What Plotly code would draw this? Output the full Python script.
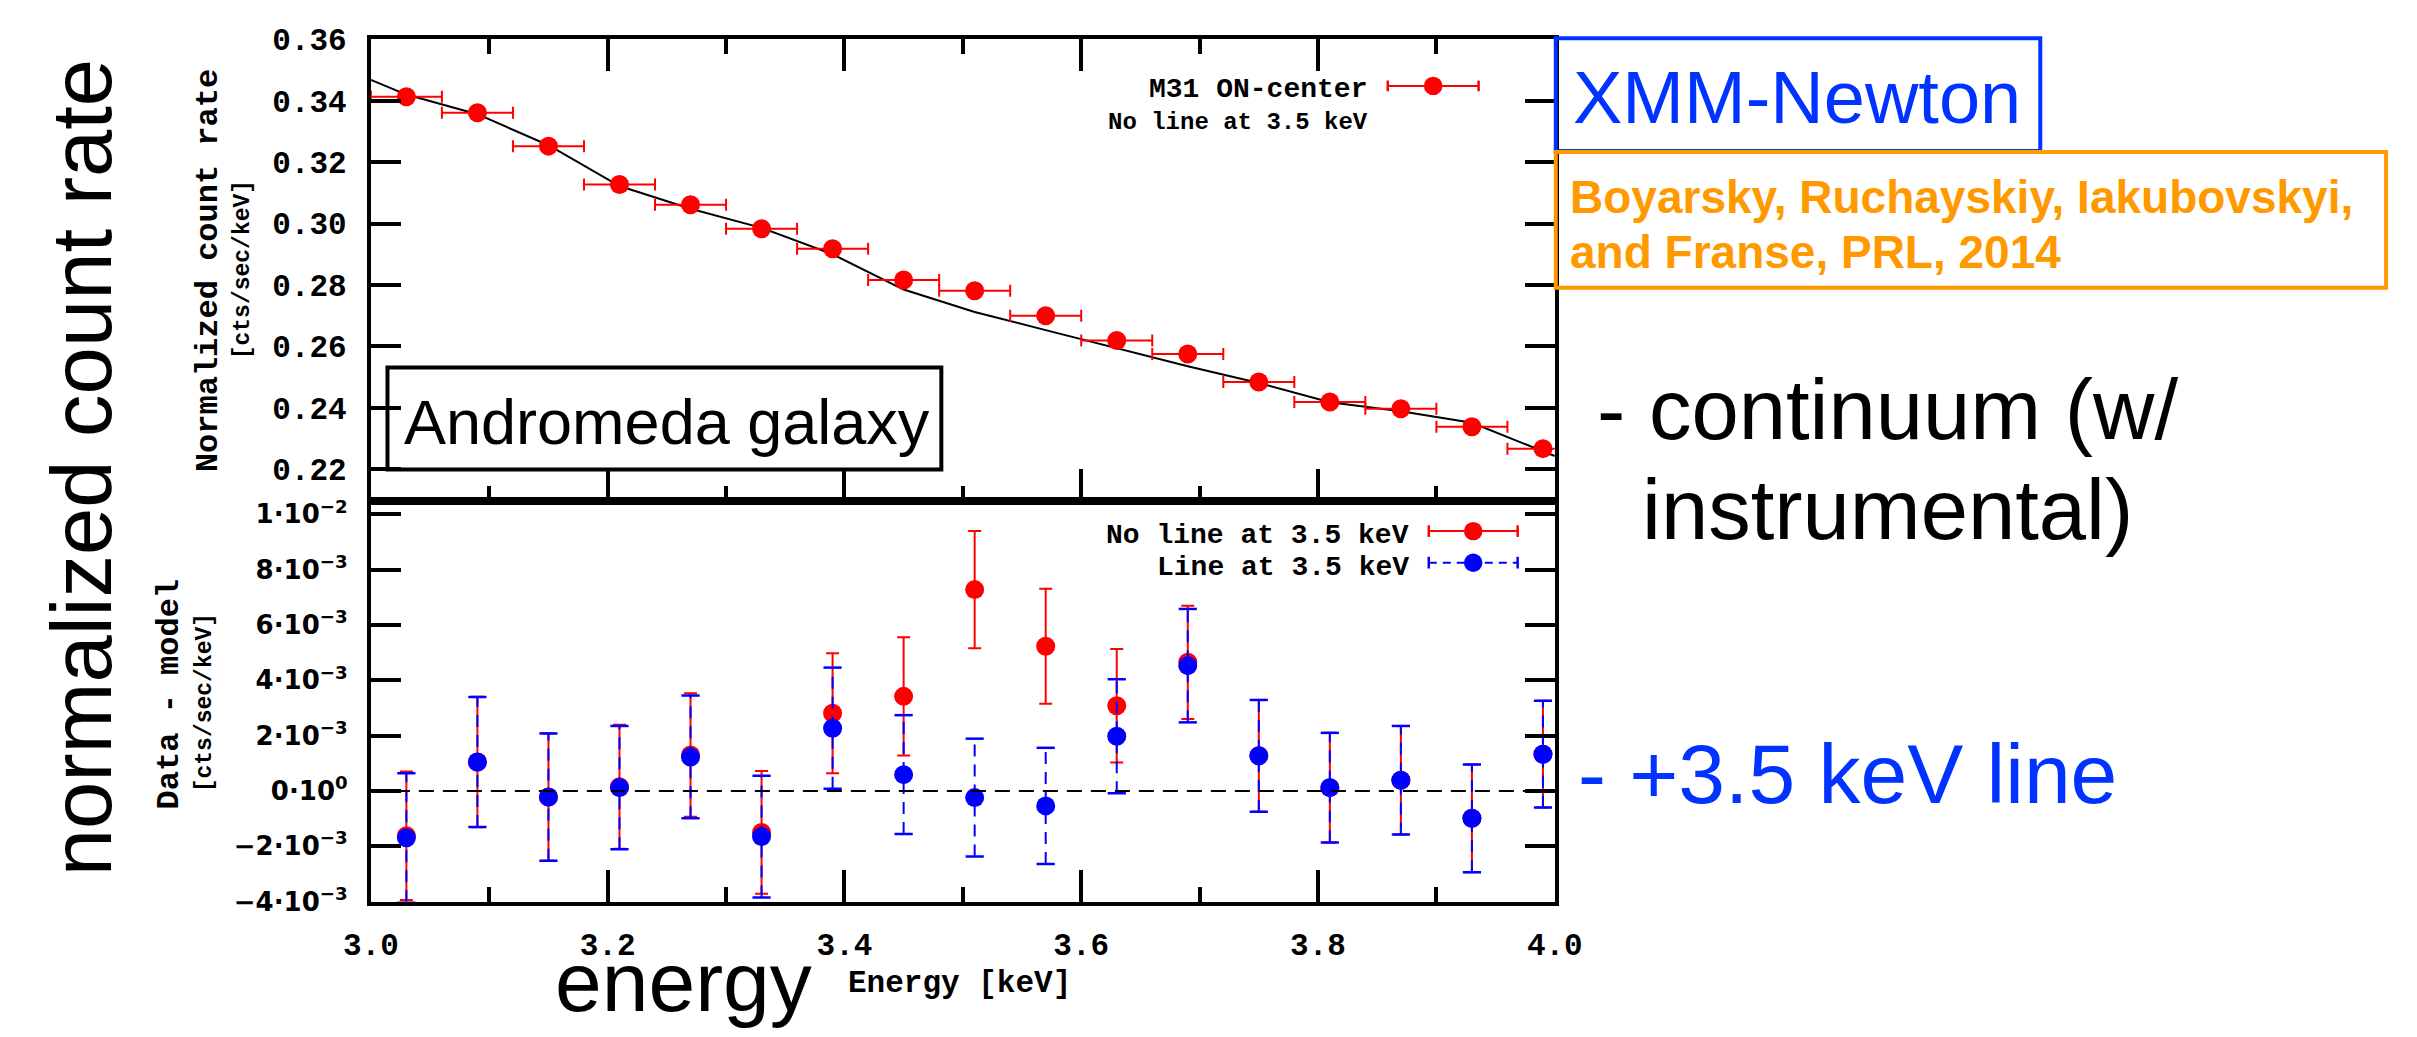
import plotly.graph_objects as go

W, H = 2417, 1037

# ---------------- data ----------------
energy = [3.03, 3.09, 3.15, 3.21, 3.27, 3.33, 3.39, 3.45, 3.51, 3.57,
          3.63, 3.69, 3.75, 3.81, 3.87, 3.93, 3.99]
bin_halfwidth = [0.03, 0.03, 0.03, 0.03, 0.03, 0.03, 0.03, 0.03, 0.03,
                 0.03, 0.03, 0.03, 0.03, 0.03, 0.03, 0.03, 0.03]
rate = [0.3413, 0.3361, 0.3252, 0.3127, 0.3061, 0.2983, 0.2918, 0.2816,
        0.2781, 0.2700, 0.2619, 0.2575, 0.2484, 0.2419, 0.2397, 0.2338, 0.2267]

model_x = [3.00, 3.03, 3.09, 3.15, 3.21, 3.27, 3.33, 3.39, 3.45, 3.51,
           3.57, 3.63, 3.69, 3.75, 3.81, 3.87, 3.93, 4.00]
model_y = [0.3468, 0.3420, 0.3356, 0.3255, 0.3122, 0.3048, 0.2986, 0.2900,
           0.2785, 0.2712, 0.2653, 0.2595, 0.2535, 0.2481, 0.2418, 0.2389,
           0.2351, 0.2243]

res_noline = [-1.62e-3, 1.05e-3, -0.22e-3, 0.15e-3, 1.30e-3, -1.50e-3,
              2.81e-3, 3.42e-3, 7.28e-3, 5.23e-3, 3.08e-3, 4.65e-3,
              1.27e-3, 0.12e-3, 0.39e-3, -0.99e-3, 1.33e-3]
err_noline = [2.32e-3, 2.36e-3, 2.30e-3, 2.24e-3, 2.23e-3, 2.22e-3,
              2.17e-3, 2.14e-3, 2.12e-3, 2.08e-3, 2.05e-3, 2.05e-3,
              2.02e-3, 1.98e-3, 1.96e-3, 1.95e-3, 1.93e-3]
res_line = [-1.69e-3, 1.05e-3, -0.22e-3, 0.12e-3, 1.23e-3, -1.65e-3,
            2.27e-3, 0.59e-3, -0.24e-3, -0.54e-3, 1.98e-3, 4.53e-3,
            1.27e-3, 0.12e-3, 0.39e-3, -0.99e-3, 1.33e-3]
err_line = [2.33e-3, 2.35e-3, 2.30e-3, 2.23e-3, 2.22e-3, 2.20e-3,
            2.19e-3, 2.15e-3, 2.13e-3, 2.10e-3, 2.06e-3, 2.05e-3,
            2.02e-3, 1.98e-3, 1.96e-3, 1.95e-3, 1.93e-3]

res_tickvals = [-4e-3, -2e-3, 0, 2e-3, 4e-3, 6e-3, 8e-3, 1e-2]
res_ticktext = ["−4·10<sup>−3</sup>", "−2·10<sup>−3</sup>", "0·10<sup>0</sup>",
                "2·10<sup>−3</sup>", "4·10<sup>−3</sup>", "6·10<sup>−3</sup>",
                "8·10<sup>−3</sup>", "1·10<sup>−2</sup>"]

# ---------------- helpers ----------------
def px(x):
    return x / W

def py(y):
    return 1 - y / H

RED = "#ff0000"
BLUE = "#0000ff"
MONO = "Liberation Mono"
SANS = "Liberation Sans"

fig = go.Figure()

# ---- top panel ----
fig.add_trace(go.Scatter(x=model_x, y=model_y, mode="lines",
                         line=dict(color="black", width=2),
                         xaxis="x", yaxis="y", showlegend=False))
fig.add_trace(go.Scatter(x=energy, y=rate, mode="markers",
                         marker=dict(color=RED, size=19),
                         error_x=dict(type="data", array=bin_halfwidth,
                                      color=RED, thickness=2, width=6),
                         xaxis="x", yaxis="y", showlegend=False))

# ---- bottom panel ----
fig.add_trace(go.Scatter(x=energy, y=res_noline, mode="markers",
                         marker=dict(color=RED, size=19),
                         error_y=dict(type="data", array=err_noline,
                                      color=RED, thickness=2, width=6.5),
                         xaxis="x2", yaxis="y2", showlegend=False))

bx, by = [], []
for e, r, s in zip(energy, res_line, err_line):
    bx += [e, e, None]
    by += [r - s, r + s, None]
fig.add_trace(go.Scatter(x=bx, y=by, mode="lines",
                         line=dict(color=BLUE, width=2, dash="12px,8px"),
                         xaxis="x2", yaxis="y2", showlegend=False))
cap_x = energy + energy
cap_y = [r - s for r, s in zip(res_line, err_line)] + \
        [r + s for r, s in zip(res_line, err_line)]
fig.add_trace(go.Scatter(x=cap_x, y=cap_y, mode="markers",
                         marker=dict(symbol="line-ew", size=13,
                                     line=dict(color=BLUE, width=2.5)),
                         xaxis="x2", yaxis="y2", showlegend=False))
fig.add_trace(go.Scatter(x=energy, y=res_line, mode="markers",
                         marker=dict(color=BLUE, size=19),
                         xaxis="x2", yaxis="y2", showlegend=False))

# ---------------- axes ----------------
xdom = [px(351), px(1563)]
axis_common = dict(showgrid=False, zeroline=False, showline=True,
                   linecolor="black", linewidth=4, ticks="inside",
                   tickcolor="black", tickwidth=3.5)
tickfont_y = dict(family=MONO, size=31, color="black", weight="bold")
tickfont_x = dict(family=MONO, size=31, color="black", weight="bold")
tickfont_res = dict(family="DejaVu Sans", size=26, color="black",
                    weight="bold")

fig.update_layout(
    width=W, height=H,
    margin=dict(l=0, r=0, t=0, b=0),
    paper_bgcolor="white", plot_bgcolor="white",
    showlegend=False,
    xaxis=dict(domain=xdom, anchor="y", range=[3.0, 4.0], tick0=3.0,
               dtick=0.2, ticklen=32, showticklabels=False, mirror="ticks",
               minor=dict(dtick=0.1, ticklen=15, ticks="inside",
                          tickcolor="black", tickwidth=3.5),
               **axis_common),
    yaxis=dict(domain=[py(500), py(25)], anchor="x", range=[0.2098, 0.36],
               tick0=0.2, dtick=0.02, tickformat=".2f", ticklen=30,
               mirror="ticks", tickfont=tickfont_y, ticklabelstandoff=14,
               **axis_common),
    xaxis2=dict(domain=xdom, anchor="y2", range=[3.0, 4.0], tick0=3.0,
                dtick=0.2, tickformat=".1f", ticklen=32, mirror=True,
                tickfont=tickfont_x, ticklabelstandoff=12,
                minor=dict(dtick=0.1, ticklen=15, ticks="inside",
                           tickcolor="black", tickwidth=3.5),
                **axis_common),
    yaxis2=dict(domain=[py(913), py(500)], anchor="x2",
                range=[-0.004, 0.0105], tickvals=res_tickvals,
                ticktext=res_ticktext, ticklen=30, mirror="ticks",
                tickfont=tickfont_res, ticklabelstandoff=14, **axis_common),
)

# ---------------- shapes ----------------
shapes = []
# zero line in residual panel
shapes.append(dict(type="line", xref="x2 domain", yref="y2", x0=0, x1=1,
                   y0=0, y1=0, line=dict(color="black", width=2,
                                         dash="15px,9px")))
# Andromeda box
shapes.append(dict(type="rect", xref="paper", yref="paper",
                   x0=px(368), x1=px(935), y0=py(468), y1=py(363),
                   line=dict(color="black", width=4)))
# XMM-Newton box
shapes.append(dict(type="rect", xref="paper", yref="paper",
                   x0=px(1564), x1=px(2060), y0=py(140), y1=py(24),
                   line=dict(color="#0033ff", width=4)))
# reference box
shapes.append(dict(type="rect", xref="paper", yref="paper",
                   x0=px(1564), x1=px(2414), y0=py(281), y1=py(141),
                   line=dict(color="#ff9900", width=4)))


def legend_sample(xl, xr, yc, color, dash=None, caph=11, r=9.5):
    out = []
    out.append(dict(type="line", xref="paper", yref="paper",
                    x0=px(xl), x1=px(xr), y0=py(yc), y1=py(yc),
                    line=dict(color=color, width=2, dash=dash or "solid")))
    for xe in (xl, xr):
        out.append(dict(type="line", xref="paper", yref="paper",
                        x0=px(xe), x1=px(xe), y0=py(yc - caph / 2),
                        y1=py(yc + caph / 2), line=dict(color=color, width=2.5)))
    xc = (xl + xr) / 2
    out.append(dict(type="circle", xref="paper", yref="paper",
                    x0=px(xc - r), x1=px(xc + r), y0=py(yc + r), y1=py(yc - r),
                    fillcolor=color, line=dict(color=color, width=0)))
    return out


shapes += legend_sample(1392, 1485, 73, RED)
shapes += legend_sample(1434, 1525, 531.5, RED, caph=12)
shapes += legend_sample(1434, 1525, 564, BLUE, dash="8px,6px", caph=12)
fig.update_layout(shapes=shapes)

# ---------------- annotations ----------------
ann = []


def add_text(text, x, y, size, family=SANS, color="black", xanchor="center",
             angle=0, weight="normal"):
    ann.append(dict(text=text, xref="paper", yref="paper", x=px(x), y=py(y),
                    xanchor=xanchor, yanchor="middle", showarrow=False,
                    textangle=angle,
                    font=dict(family=family, size=size, color=color,
                              weight=weight)))


# legends
add_text("M31 ON-center", 1373, 77, 28, MONO, xanchor="right", weight="bold")
add_text("No line at 3.5 keV", 1374, 111, 24, MONO, xanchor="right",
         weight="bold")
add_text("No line at 3.5 keV", 1416, 536, 28, MONO, xanchor="right",
         weight="bold")
add_text("Line at 3.5 keV", 1416, 568.5, 28, MONO, xanchor="right",
         weight="bold")

# axis titles
add_text("Normalized count rate", 185, 263, 32, MONO, angle=-90, weight="bold")
add_text("[cts/sec/keV]", 221, 262, 23, MONO, angle=-90, weight="bold")
add_text("Data - model", 145, 700, 32, MONO, angle=-90, weight="bold")
add_text("[cts/sec/keV]", 181, 708, 23, MONO, angle=-90, weight="bold")
add_text("Energy [keV]", 954, 997, 31, MONO, weight="bold")

# big slide texts
add_text("normalized count rate", 55, 466, 85, SANS, angle=-90)
add_text("energy", 671, 996, 84, SANS)
add_text("Andromeda galaxy", 383, 419, 63, SANS, xanchor="left")
add_text("XMM-Newton", 1580, 85, 74, SANS, color="#0033ff", xanchor="left")
add_text("Boyarsky, Ruchayskiy, Iakubovskyi,", 1577, 187, 46, SANS,
         color="#ff9900", xanchor="left", weight="bold")
add_text("and Franse, PRL, 2014", 1577, 244, 46, SANS, color="#ff9900",
         xanchor="left", weight="bold")
add_text("- continuum (w/", 1604, 406, 85, SANS, xanchor="left")
add_text("instrumental)", 1650, 509, 85, SANS, xanchor="left")
add_text("- +3.5 keV line", 1585, 782, 84, SANS, color="#0033ff",
         xanchor="left")

fig.update_layout(annotations=ann)

fig.write_html("out.html")
